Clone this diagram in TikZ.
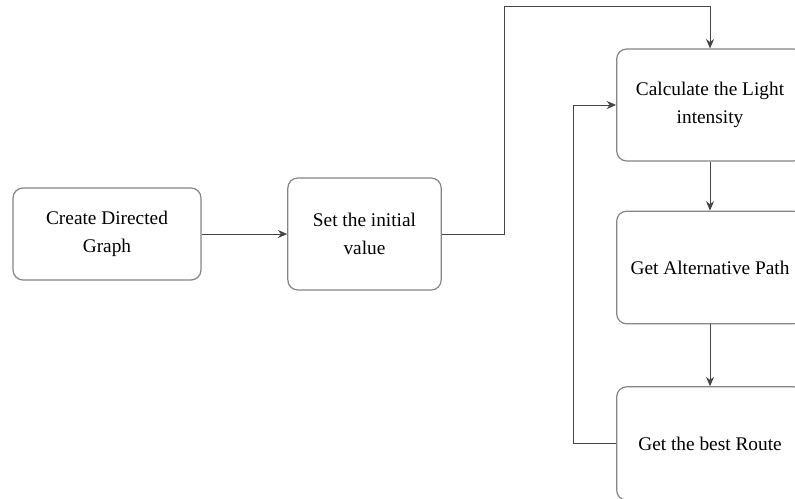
\documentclass[tikz,border=0pt]{standalone}
\usepackage{fontspec}
\setmainfont{Liberation Serif}
\usetikzlibrary{arrows.meta}

\definecolor{boxline}{HTML}{858585}
\definecolor{wire}{HTML}{454545}

\tikzset{
  stepbox/.style={draw=boxline, line width=0.9pt, rounded corners=7.5pt,
    align=center, inner sep=0pt, font=\fontsize{14.5}{21}\selectfont},
  wireline/.style={draw=wire, line width=0.65pt, -{Stealth[length=7pt,width=6pt]}}
}

\begin{document}
\begin{tikzpicture}[x=0.75pt, y=-0.75pt]

        \clip (0,0) rectangle (795,499);
        \fill[white] (0,0) rectangle (795,499);

        % left column
        \node[stepbox, minimum width=141pt, minimum height=69pt] (graph) at (107,234) {Create Directed\\Graph};
        \node[stepbox, minimum width=115pt, minimum height=84pt] (init) at (364.5,234) {Set the initial\\value};

        % right column, cut at the page edge
        \node[stepbox, minimum width=140pt, minimum height=84pt] (light) at (710,105) {Calculate the Light\\intensity};
        \node[stepbox, minimum width=140pt, minimum height=84.5pt] (path) at (710,267.5) {Get Alternative Path};
        \node[stepbox, minimum width=140pt, minimum height=85pt] (route) at (710,443.5) {Get the best Route};

        \coordinate (up) at (504,6); % top bend
        \coordinate (back) at (573,443.5); % feedback bend

        \draw[wireline] (graph.east) -- (init.west);
        \draw[wireline] (init.east) -| (up) -| (light.north);
        \draw[wireline] (light.south) -- (path.north);
        \draw[wireline] (path.south) -- (route.north);
        \draw[wireline] (route.west) -- (back) |- (light.west);

\end{tikzpicture}
\end{document}
